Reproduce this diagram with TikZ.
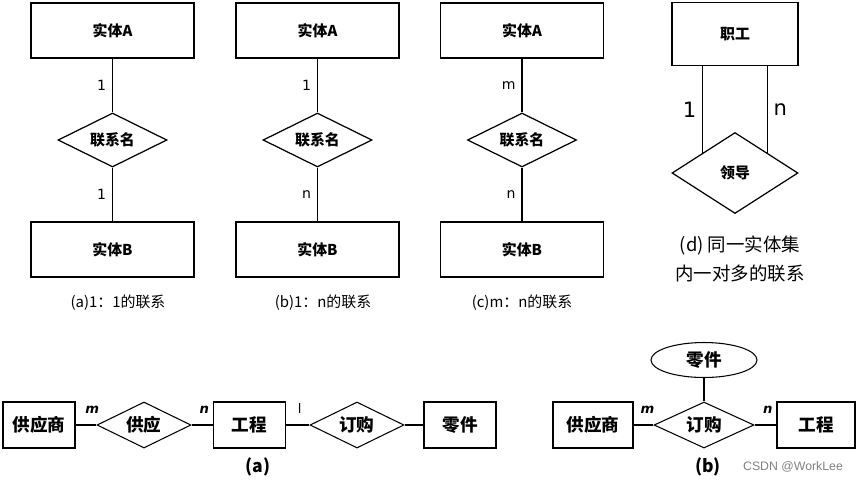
\documentclass[tikz,border=0pt]{standalone}
\usepackage{fontspec}
\setmainfont{DejaVu Sans}
\newfontfamily\cjk{Noto Sans CJK SC}
\newfontfamily\wmfont{Liberation Sans}
\usetikzlibrary{shapes.geometric}

\begin{document}
\begin{tikzpicture}[font=\cjk\bfseries\fontsize{8.5}{10}\selectfont,
 ent/.style={draw, line width=.9pt, minimum width=3.26cm, minimum height=1.1cm, inner sep=0pt},
 rel/.style={draw, diamond, aspect=2, line width=.7pt, minimum width=2.18cm, minimum height=1.08cm, inner sep=0pt},
 sent/.style={draw, line width=.6pt, minimum width=1.44cm, minimum height=.92cm, inner sep=0pt, font=\cjk\bfseries\fontsize{10}{12}\selectfont},
 srel/.style={draw, diamond, aspect=2, line width=.6pt, minimum width=1.88cm, minimum height=.92cm, inner sep=0pt, font=\cjk\bfseries\fontsize{10}{12}\selectfont},
 card/.style={font=\normalfont\fontsize{8}{9}\selectfont},
 mult/.style={font=\normalfont\bfseries\itshape\fontsize{7.5}{9}\selectfont},
 caption/.style={font=\cjk\fontsize{8.5}{10}\selectfont},
 link/.style={line width=.7pt}]
\useasboundingbox (0,0) rectangle (17.16,-9.6);
% (a) 1:1
\node[ent] (a1) at (2.25,-0.61) {实体A};
\node[rel] (ar) at (2.25,-2.8) {联系名};
\node[ent] (a2) at (2.25,-4.99) {实体B};
\draw[link] (a1) -- node[card,left]{1} (ar);
\draw[link] (ar) -- node[card,left]{1} (a2);
\node[caption] (capa) at (2.36,-6.06) {(a)1：1的联系};
% (b) 1:n
\node[ent] (b1) at (6.35,-0.61) {实体A};
\node[rel] (br) at (6.35,-2.8) {联系名};
\node[ent] (b2) at (6.35,-4.99) {实体B};
\draw[link] (b1) -- node[card,left]{1} (br);
\draw[link] (br) -- node[card,left]{n} (b2);
\node[caption] (capb) at (6.46,-6.06) {(b)1：n的联系};
% (c) m:n
\node[ent] (c1) at (10.44,-0.61) {实体A};
\node[rel] (cr) at (10.44,-2.8) {联系名};
\node[ent] (c2) at (10.44,-4.99) {实体B};
\draw[link] (c1) -- node[card,left]{m} (cr);
\draw[link] (cr) -- node[card,left]{n} (c2);
\node[caption] (capc) at (10.44,-6.06) {(c)m：n的联系};
% (d) one entity set
\node[ent, line width=.7pt, minimum width=2.52cm, minimum height=1.26cm] (emp) at (14.7,-0.68) {职工};
\node[rel, minimum width=2.52cm, minimum height=1.62cm] (lead) at (14.7,-3.46) {领导};
\draw[link, line width=.6pt] (lead.148) -- node[card,left,font=\normalfont\fontsize{12}{14}\selectfont]{1} (lead.148 |- emp.south);
\draw[link, line width=.6pt] (lead.32) -- node[card,right,font=\normalfont\fontsize{12}{14}\selectfont]{n} (lead.32 |- emp.south);
\node[caption, align=center, font=\cjk\fontsize{10.5}{16}\selectfont] (capd) at (14.8,-5.18) {(d) 同一实体集\\内一对多的联系};
% bottom (a)
\node[sent] (sup1) at (0.78,-8.5) {供应商};
\node[srel] (supply) at (2.88,-8.5) {供应};
\node[sent] (proj1) at (4.99,-8.5) {工程};
\node[srel] (order1) at (7.14,-8.5) {订购};
\node[sent] (part1) at (9.2,-8.5) {零件};
\draw[line width=.6pt] (sup1) -- node[mult,pos=.8,above=3pt]{m} (supply);
\draw[line width=.6pt] (supply) -- node[mult,pos=.6,above=3pt]{n} (proj1);
\draw[line width=.6pt] (proj1) -- node[card,pos=.58,above=3pt,font=\normalfont\fontsize{7.5}{9}\selectfont]{l} (order1);
\draw[line width=.6pt] (order1) -- (part1);
\node[caption, font=\cjk\bfseries\fontsize{10}{12}\selectfont] (capba) at (5.16,-9.34) {(a)};
% bottom (b)
\node[sent, minimum width=1.6cm] (sup2) at (11.86,-8.5) {供应商};
\node[srel, minimum width=2cm] (order2) at (14.08,-8.5) {订购};
\node[sent, minimum width=1.56cm] (proj2) at (16.32,-8.5) {工程};
\node[draw, ellipse, line width=.6pt, minimum width=2.12cm, minimum height=.7cm, inner sep=0pt, font=\cjk\bfseries\fontsize{10}{12}\selectfont] (part2) at (14.08,-7.2) {零件};
\draw[line width=.6pt] (sup2) -- node[mult,pos=.7,above=3pt]{m} (order2);
\draw[line width=.6pt] (order2) -- node[mult,pos=.6,above=3pt]{n} (proj2);
\draw[line width=.6pt] (part2) -- (order2);
\node[caption, font=\cjk\bfseries\fontsize{10}{12}\selectfont] (capbb) at (14.16,-9.34) {(b)};
\node[font=\wmfont\fontsize{7}{8}\selectfont, text=gray] (mark) at (15.86,-9.34) {CSDN @WorkLee};
\end{tikzpicture}
\end{document}
